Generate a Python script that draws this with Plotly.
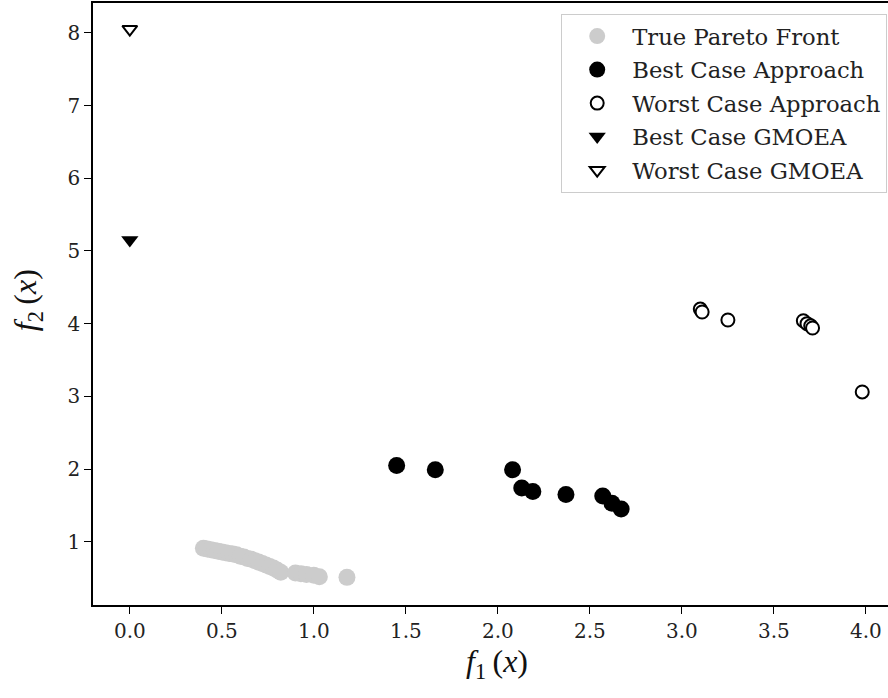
import plotly.graph_objects as go

# True Pareto Front
pf_x = [0.40, 0.42, 0.44, 0.46, 0.48, 0.50, 0.52, 0.54, 0.56, 0.58, 0.60, 0.62, 0.64,
        0.66, 0.68, 0.70, 0.72, 0.74, 0.76, 0.78, 0.80, 0.82, 0.90, 0.93, 0.96, 1.00,
        1.03, 1.18]
pf_y = [0.91, 0.90, 0.89, 0.88, 0.87, 0.86, 0.85, 0.84, 0.83, 0.82, 0.80, 0.79, 0.77,
        0.76, 0.74, 0.72, 0.70, 0.68, 0.66, 0.64, 0.61, 0.58, 0.57, 0.56, 0.55, 0.54,
        0.52, 0.51]

# Best Case Approach
bca_x = [1.45, 1.66, 2.08, 2.13, 2.19, 2.37, 2.57, 2.62, 2.67]
bca_y = [2.05, 1.99, 1.99, 1.74, 1.69, 1.65, 1.63, 1.53, 1.45]

# Worst Case Approach
wca_x = [3.10, 3.11, 3.25, 3.66, 3.68, 3.70, 3.71, 3.98]
wca_y = [4.20, 4.16, 4.05, 4.04, 4.00, 3.97, 3.94, 3.06]

# GMOEA
bg_x = [0.0]
bg_y = [5.15]
wg_x = [0.0]
wg_y = [8.05]

x_ticks = [0.0, 0.5, 1.0, 1.5, 2.0, 2.5, 3.0, 3.5, 4.0]
y_ticks = [1, 2, 3, 4, 5, 6, 7, 8]

fig = go.Figure()
fig.add_trace(go.Scatter(x=pf_x, y=pf_y, mode="markers", name="True Pareto Front",
                         legendgroup="a",
                         marker=dict(color="#cccccc", size=17, line=dict(width=0))))
fig.add_trace(go.Scatter(x=bca_x, y=bca_y, mode="markers", name="Best Case Approach",
                         legendgroup="b",
                         marker=dict(color="black", size=17, line=dict(width=0))))
fig.add_trace(go.Scatter(x=wca_x, y=wca_y, mode="markers", name="Worst Case Approach",
                         legendgroup="c",
                         marker=dict(color="white", size=13, symbol="circle",
                                     line=dict(color="black", width=2))))
fig.add_trace(go.Scatter(x=bg_x, y=bg_y, mode="markers", name="Best Case GMOEA",
                         legendgroup="d",
                         marker=dict(color="black", size=15, symbol="triangle-down",
                                     line=dict(width=0))))
fig.add_trace(go.Scatter(x=wg_x, y=wg_y, mode="markers", name="Worst Case GMOEA",
                         legendgroup="e",
                         marker=dict(color="white", size=13, symbol="triangle-down",
                                     line=dict(color="black", width=2))))

tickfont = dict(family="DejaVu Serif", size=20, color="#222222")
titlefont = dict(family="Liberation Serif", size=32, color="#111111")
fig.update_layout(
    width=888, height=698,
    margin=dict(l=93, r=0, t=3, b=93),
    paper_bgcolor="white", plot_bgcolor="white",
    showlegend=True,
    legend=dict(x=0.999, y=0.982, xanchor="right", yanchor="top",
                bgcolor="rgba(255,255,255,0.8)", bordercolor="#cccccc", borderwidth=1,
                font=dict(family="DejaVu Serif", size=22.7, color="#222222"),
                itemsizing="trace", itemwidth=60, tracegroupgap=1),
    xaxis=dict(range=[-0.2, 4.12], tickvals=x_ticks, ticktext=[f"{v:.1f}" for v in x_ticks],
               showgrid=False, zeroline=False, showline=True, linecolor="black", linewidth=1.5,
               mirror=True, ticks="outside", ticklen=7, tickwidth=1.3, tickcolor="black",
               tickfont=tickfont),
    yaxis=dict(range=[0.13, 8.41], tickvals=y_ticks, ticktext=[str(v) for v in y_ticks],
               showgrid=False, zeroline=False, showline=True, linecolor="black", linewidth=1.5,
               mirror=False, ticks="outside", ticklen=7, tickwidth=1.3, tickcolor="black",
               tickfont=tickfont),
    annotations=[
        dict(text="<i>f</i><sub>1</sub>\u2009(<i>x</i>)", xref="paper", yref="paper",
             x=0.508, y=-0.062, xanchor="center", yanchor="top", showarrow=False,
             borderpad=0, font=titlefont),
        dict(text="<i>f</i><sub>2</sub>\u2009(<i>x</i>)", xref="paper", yref="paper",
             x=-0.082, y=0.506, xanchor="center", yanchor="middle", showarrow=False,
             textangle=-90, font=titlefont),
    ],
)

fig.write_html("out.html")
